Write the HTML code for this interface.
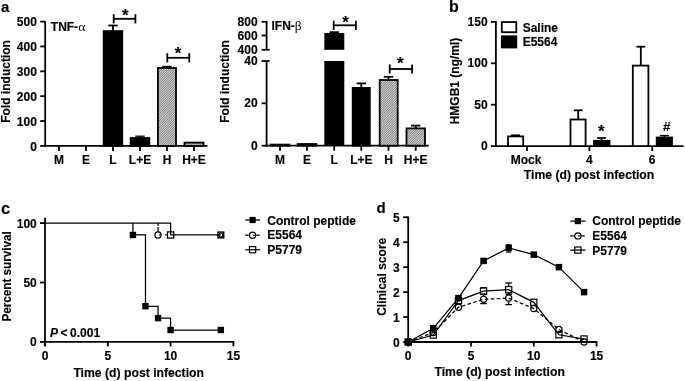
<!DOCTYPE html>
<html><head><meta charset="utf-8"><title>Figure</title>
<style>html,body{margin:0;padding:0;background:#fff}svg{display:block;will-change:transform;position:absolute;left:0;top:0}text{font-family:"Liberation Sans",sans-serif;font-weight:bold;fill:#000;stroke:#000;stroke-width:0.15px}</style>
</head><body>
<svg width="685" height="381" viewBox="0 0 685 381">
<rect width="685" height="381" fill="#fff"/>
<defs><pattern id="hatch" width="7" height="7" patternUnits="userSpaceOnUse"><rect width="7" height="7" fill="#e8e8e8"/><path d="M0.250,-2 L-10.750,9 M2.000,-2 L-9.000,9 M3.750,-2 L-7.250,9 M5.500,-2 L-5.500,9 M7.250,-2 L-3.750,9 M9.000,-2 L-2.000,9 M10.750,-2 L-0.250,9 M12.500,-2 L1.500,9 M14.250,-2 L3.250,9 M16.000,-2 L5.000,9 M17.750,-2 L6.750,9" stroke="#2a2a2a" stroke-width="0.56" fill="none"/></pattern></defs>
<text x="1.00" y="12.20" text-anchor="start" font-size="15" >a</text>
<text x="449.00" y="11.90" text-anchor="start" font-size="16" >b</text>
<text x="1.00" y="213.80" text-anchor="start" font-size="16.5" >c</text>
<text x="376.50" y="213.00" text-anchor="start" font-size="15" >d</text>
<line x1="45.20" y1="21.30" x2="45.20" y2="146.65" stroke="#000" stroke-width="1.8" />
<line x1="44.45" y1="145.90" x2="207.50" y2="145.90" stroke="#000" stroke-width="1.8" />
<line x1="40.20" y1="145.90" x2="45.20" y2="145.90" stroke="#000" stroke-width="1.8" />
<text x="36.90" y="150.60" text-anchor="end" font-size="12" >0</text>
<line x1="40.20" y1="121.04" x2="45.20" y2="121.04" stroke="#000" stroke-width="1.8" />
<text x="36.90" y="125.74" text-anchor="end" font-size="12" >100</text>
<line x1="40.20" y1="96.18" x2="45.20" y2="96.18" stroke="#000" stroke-width="1.8" />
<text x="36.90" y="100.88" text-anchor="end" font-size="12" >200</text>
<line x1="40.20" y1="71.32" x2="45.20" y2="71.32" stroke="#000" stroke-width="1.8" />
<text x="36.90" y="76.02" text-anchor="end" font-size="12" >300</text>
<line x1="40.20" y1="46.46" x2="45.20" y2="46.46" stroke="#000" stroke-width="1.8" />
<text x="36.90" y="51.16" text-anchor="end" font-size="12" >400</text>
<line x1="40.20" y1="21.60" x2="45.20" y2="21.60" stroke="#000" stroke-width="1.8" />
<text x="36.90" y="26.30" text-anchor="end" font-size="12" >500</text>
<line x1="59.00" y1="145.90" x2="59.00" y2="150.90" stroke="#000" stroke-width="1.8" />
<text x="59.00" y="164.00" text-anchor="middle" font-size="12" >M</text>
<line x1="86.00" y1="145.90" x2="86.00" y2="150.90" stroke="#000" stroke-width="1.8" />
<text x="86.00" y="164.00" text-anchor="middle" font-size="12" >E</text>
<line x1="113.00" y1="145.90" x2="113.00" y2="150.90" stroke="#000" stroke-width="1.8" />
<text x="113.00" y="164.00" text-anchor="middle" font-size="12" >L</text>
<line x1="140.00" y1="145.90" x2="140.00" y2="150.90" stroke="#000" stroke-width="1.8" />
<text x="140.00" y="164.00" text-anchor="middle" font-size="12" >L+E</text>
<line x1="167.00" y1="145.90" x2="167.00" y2="150.90" stroke="#000" stroke-width="1.8" />
<text x="167.00" y="164.00" text-anchor="middle" font-size="12" >H</text>
<line x1="194.00" y1="145.90" x2="194.00" y2="150.90" stroke="#000" stroke-width="1.8" />
<text x="194.00" y="164.00" text-anchor="middle" font-size="12" >H+E</text>
<text transform="translate(10.20,81.40) rotate(-90)" text-anchor="middle" font-size="12" >Fold induction</text>
<text x="50.80" y="31.00" text-anchor="start" font-size="12" >TNF-<tspan font-family="Liberation Serif" font-weight="normal" font-size="13.5" stroke="none">α</tspan></text>
<line x1="113.00" y1="25.50" x2="113.00" y2="31.00" stroke="#000" stroke-width="1.8" />
<line x1="108.30" y1="25.50" x2="117.70" y2="25.50" stroke="#000" stroke-width="1.8" />
<rect x="103.70" y="31.10" width="18.60" height="114.80" fill="#000" stroke="#000" stroke-width="1.8"/>
<line x1="140.00" y1="136.20" x2="140.00" y2="138.00" stroke="#000" stroke-width="1.3" />
<line x1="135.30" y1="136.20" x2="144.70" y2="136.20" stroke="#000" stroke-width="1.3" />
<rect x="130.70" y="138.00" width="18.60" height="7.90" fill="#000" stroke="#000" stroke-width="1.8"/>
<line x1="167.00" y1="66.70" x2="167.00" y2="68.00" stroke="#000" stroke-width="1.8" />
<line x1="162.30" y1="66.70" x2="171.70" y2="66.70" stroke="#000" stroke-width="1.8" />
<rect x="157.90" y="68.00" width="18.10" height="77.90" fill="url(#hatch)" stroke="#000" stroke-width="1.8"/>
<rect x="184.50" y="142.60" width="19.00" height="3.30" fill="url(#hatch)" stroke="#000" stroke-width="1.8"/>
<line x1="113.70" y1="18.80" x2="135.40" y2="18.80" stroke="#000" stroke-width="1.8" />
<line x1="113.70" y1="14.20" x2="113.70" y2="23.40" stroke="#000" stroke-width="1.8" />
<line x1="135.40" y1="14.20" x2="135.40" y2="23.40" stroke="#000" stroke-width="1.8" />
<text x="125.30" y="21.30" text-anchor="middle" font-size="17" stroke="none">*</text>
<line x1="167.30" y1="57.80" x2="189.30" y2="57.80" stroke="#000" stroke-width="1.8" />
<line x1="167.30" y1="53.20" x2="167.30" y2="62.40" stroke="#000" stroke-width="1.8" />
<line x1="189.30" y1="53.20" x2="189.30" y2="62.40" stroke="#000" stroke-width="1.8" />
<text x="178.00" y="58.50" text-anchor="middle" font-size="17" stroke="none">*</text>
<line x1="266.60" y1="20.90" x2="266.60" y2="49.80" stroke="#000" stroke-width="1.8" />
<line x1="266.60" y1="61.00" x2="266.60" y2="146.45" stroke="#000" stroke-width="1.8" />
<line x1="265.85" y1="145.70" x2="428.70" y2="145.70" stroke="#000" stroke-width="1.8" />
<line x1="261.60" y1="21.80" x2="266.60" y2="21.80" stroke="#000" stroke-width="1.8" />
<text x="257.60" y="25.90" text-anchor="end" font-size="12" >800</text>
<line x1="261.60" y1="35.50" x2="266.60" y2="35.50" stroke="#000" stroke-width="1.8" />
<text x="257.60" y="39.60" text-anchor="end" font-size="12" >600</text>
<line x1="261.60" y1="49.80" x2="266.60" y2="49.80" stroke="#000" stroke-width="1.8" />
<text x="257.60" y="53.90" text-anchor="end" font-size="12" >400</text>
<line x1="261.60" y1="61.00" x2="266.60" y2="61.00" stroke="#000" stroke-width="1.8" />
<text x="257.60" y="65.10" text-anchor="end" font-size="12" >40</text>
<line x1="261.60" y1="103.30" x2="266.60" y2="103.30" stroke="#000" stroke-width="1.8" />
<text x="257.60" y="107.40" text-anchor="end" font-size="12" >20</text>
<line x1="261.60" y1="145.70" x2="266.60" y2="145.70" stroke="#000" stroke-width="1.8" />
<text x="257.60" y="149.80" text-anchor="end" font-size="12" >0</text>
<line x1="266.60" y1="49.80" x2="269.60" y2="49.80" stroke="#000" stroke-width="1.8" />
<line x1="266.60" y1="61.00" x2="269.60" y2="61.00" stroke="#000" stroke-width="1.8" />
<line x1="280.00" y1="145.70" x2="280.00" y2="150.70" stroke="#000" stroke-width="1.8" />
<text x="280.00" y="164.00" text-anchor="middle" font-size="12" >M</text>
<line x1="307.00" y1="145.70" x2="307.00" y2="150.70" stroke="#000" stroke-width="1.8" />
<text x="307.00" y="164.00" text-anchor="middle" font-size="12" >E</text>
<line x1="334.20" y1="145.70" x2="334.20" y2="150.70" stroke="#000" stroke-width="1.8" />
<text x="334.20" y="164.00" text-anchor="middle" font-size="12" >L</text>
<line x1="361.30" y1="145.70" x2="361.30" y2="150.70" stroke="#000" stroke-width="1.8" />
<text x="361.30" y="164.00" text-anchor="middle" font-size="12" >L+E</text>
<line x1="388.50" y1="145.70" x2="388.50" y2="150.70" stroke="#000" stroke-width="1.8" />
<text x="388.50" y="164.00" text-anchor="middle" font-size="12" >H</text>
<line x1="415.70" y1="145.70" x2="415.70" y2="150.70" stroke="#000" stroke-width="1.8" />
<text x="415.70" y="164.00" text-anchor="middle" font-size="12" >H+E</text>
<text transform="translate(229.00,81.40) rotate(-90)" text-anchor="middle" font-size="12" >Fold induction</text>
<text x="271.50" y="30.10" text-anchor="start" font-size="12" >IFN-<tspan font-family="Liberation Serif" font-weight="normal" font-size="13.5" stroke="none">β</tspan></text>
<rect x="270.70" y="144.60" width="18.60" height="1.10" fill="#000" stroke="#000" stroke-width="1.8"/>
<rect x="297.70" y="144.00" width="18.60" height="1.70" fill="#000" stroke="#000" stroke-width="1.8"/>
<rect x="324.30" y="33.00" width="20.00" height="16.80" fill="#000" stroke="#000" stroke-width="0"/>
<rect x="324.30" y="61.00" width="20.00" height="84.70" fill="#000" stroke="#000" stroke-width="0"/>
<line x1="329.50" y1="32.20" x2="339.00" y2="32.20" stroke="#000" stroke-width="1.8" />
<line x1="361.30" y1="83.40" x2="361.30" y2="88.00" stroke="#000" stroke-width="1.8" />
<line x1="356.60" y1="83.40" x2="366.00" y2="83.40" stroke="#000" stroke-width="1.8" />
<rect x="352.70" y="87.90" width="17.10" height="57.80" fill="#000" stroke="#000" stroke-width="1.8"/>
<line x1="388.50" y1="76.80" x2="388.50" y2="80.00" stroke="#000" stroke-width="1.8" />
<line x1="383.80" y1="76.80" x2="393.20" y2="76.80" stroke="#000" stroke-width="1.8" />
<rect x="379.70" y="80.00" width="18.00" height="65.70" fill="url(#hatch)" stroke="#000" stroke-width="1.8"/>
<line x1="415.70" y1="125.60" x2="415.70" y2="129.00" stroke="#000" stroke-width="1.8" />
<line x1="411.00" y1="125.60" x2="420.40" y2="125.60" stroke="#000" stroke-width="1.8" />
<rect x="406.50" y="128.40" width="18.50" height="17.30" fill="url(#hatch)" stroke="#000" stroke-width="1.8"/>
<line x1="333.70" y1="25.30" x2="355.90" y2="25.30" stroke="#000" stroke-width="1.8" />
<line x1="333.70" y1="20.70" x2="333.70" y2="29.90" stroke="#000" stroke-width="1.8" />
<line x1="355.90" y1="20.70" x2="355.90" y2="29.90" stroke="#000" stroke-width="1.8" />
<text x="345.50" y="28.00" text-anchor="middle" font-size="17" stroke="none">*</text>
<line x1="389.70" y1="69.00" x2="412.10" y2="69.00" stroke="#000" stroke-width="1.8" />
<line x1="389.70" y1="64.40" x2="389.70" y2="73.60" stroke="#000" stroke-width="1.8" />
<line x1="412.10" y1="64.40" x2="412.10" y2="73.60" stroke="#000" stroke-width="1.8" />
<text x="400.30" y="69.30" text-anchor="middle" font-size="17" stroke="none">*</text>
<line x1="495.90" y1="21.00" x2="495.90" y2="146.85" stroke="#000" stroke-width="1.8" />
<line x1="495.15" y1="146.10" x2="683.60" y2="146.10" stroke="#000" stroke-width="1.8" />
<line x1="490.90" y1="146.10" x2="495.90" y2="146.10" stroke="#000" stroke-width="1.8" />
<text x="487.60" y="150.20" text-anchor="end" font-size="12" >0</text>
<line x1="490.90" y1="104.70" x2="495.90" y2="104.70" stroke="#000" stroke-width="1.8" />
<text x="487.60" y="108.80" text-anchor="end" font-size="12" >50</text>
<line x1="490.90" y1="63.30" x2="495.90" y2="63.30" stroke="#000" stroke-width="1.8" />
<text x="487.60" y="67.40" text-anchor="end" font-size="12" >100</text>
<line x1="490.90" y1="21.90" x2="495.90" y2="21.90" stroke="#000" stroke-width="1.8" />
<text x="487.60" y="26.00" text-anchor="end" font-size="12" >150</text>
<line x1="527.00" y1="146.10" x2="527.00" y2="151.10" stroke="#000" stroke-width="1.8" />
<text x="526.00" y="163.60" text-anchor="middle" font-size="12" >Mock</text>
<line x1="589.40" y1="146.10" x2="589.40" y2="151.10" stroke="#000" stroke-width="1.8" />
<text x="589.40" y="163.60" text-anchor="middle" font-size="12" >4</text>
<line x1="652.20" y1="146.10" x2="652.20" y2="151.10" stroke="#000" stroke-width="1.8" />
<text x="652.20" y="163.60" text-anchor="middle" font-size="12" >6</text>
<text x="589.05" y="179.20" text-anchor="middle" font-size="12" textLength="130.4" lengthAdjust="spacingAndGlyphs">Time (d) post infection</text>
<text transform="translate(458.80,81.00) rotate(-90)" text-anchor="middle" font-size="12" >HMGB1 (ng/ml)</text>
<rect x="501.80" y="22.10" width="14.50" height="10.10" fill="#fff" stroke="#000" stroke-width="1.8"/>
<text x="522.70" y="31.90" text-anchor="start" font-size="12" >Saline</text>
<rect x="501.80" y="36.30" width="14.50" height="11.20" fill="#000" stroke="#000" stroke-width="1.8"/>
<text x="522.70" y="46.10" text-anchor="start" font-size="12" >E5564</text>
<line x1="515.60" y1="135.30" x2="515.60" y2="137.00" stroke="#000" stroke-width="1.8" />
<line x1="511.10" y1="135.30" x2="520.10" y2="135.30" stroke="#000" stroke-width="1.8" />
<rect x="508.00" y="136.40" width="15.20" height="9.70" fill="#fff" stroke="#000" stroke-width="1.8"/>
<line x1="578.20" y1="110.30" x2="578.20" y2="120.00" stroke="#000" stroke-width="1.8" />
<line x1="573.80" y1="110.30" x2="582.60" y2="110.30" stroke="#000" stroke-width="1.8" />
<rect x="570.50" y="119.50" width="15.10" height="26.60" fill="#fff" stroke="#000" stroke-width="1.8"/>
<line x1="601.50" y1="138.00" x2="601.50" y2="141.00" stroke="#000" stroke-width="1.8" />
<line x1="597.10" y1="138.00" x2="605.90" y2="138.00" stroke="#000" stroke-width="1.8" />
<rect x="594.00" y="140.80" width="15.50" height="5.30" fill="#000" stroke="#000" stroke-width="1.8"/>
<line x1="640.80" y1="46.70" x2="640.80" y2="66.00" stroke="#000" stroke-width="1.8" />
<line x1="636.40" y1="46.70" x2="645.20" y2="46.70" stroke="#000" stroke-width="1.8" />
<rect x="632.80" y="65.60" width="15.60" height="80.50" fill="#fff" stroke="#000" stroke-width="1.8"/>
<line x1="664.40" y1="135.60" x2="664.40" y2="138.00" stroke="#000" stroke-width="1.4" />
<line x1="660.00" y1="135.60" x2="668.80" y2="135.60" stroke="#000" stroke-width="1.4" />
<rect x="656.70" y="137.50" width="15.30" height="8.60" fill="#000" stroke="#000" stroke-width="1.8"/>
<text x="601.30" y="137.40" text-anchor="middle" font-size="17" stroke="none">*</text>
<text x="666.60" y="131.00" text-anchor="middle" font-size="13.5" font-style="italic" stroke="none">#</text>
<line x1="45.00" y1="217.80" x2="45.00" y2="345.90" stroke="#000" stroke-width="1.8" />
<line x1="41.00" y1="341.90" x2="234.15" y2="341.90" stroke="#000" stroke-width="1.8" />
<line x1="40.00" y1="341.90" x2="45.00" y2="341.90" stroke="#000" stroke-width="1.8" />
<text x="36.80" y="346.30" text-anchor="end" font-size="12" >0</text>
<line x1="40.00" y1="282.50" x2="45.00" y2="282.50" stroke="#000" stroke-width="1.8" />
<text x="36.80" y="286.90" text-anchor="end" font-size="12" >50</text>
<line x1="40.00" y1="223.10" x2="45.00" y2="223.10" stroke="#000" stroke-width="1.8" />
<text x="36.80" y="227.50" text-anchor="end" font-size="12" >100</text>
<line x1="45.00" y1="341.90" x2="45.00" y2="346.40" stroke="#000" stroke-width="1.8" />
<text x="45.00" y="359.50" text-anchor="middle" font-size="12" >0</text>
<line x1="107.80" y1="341.90" x2="107.80" y2="346.40" stroke="#000" stroke-width="1.8" />
<text x="107.80" y="359.50" text-anchor="middle" font-size="12" >5</text>
<line x1="170.60" y1="341.90" x2="170.60" y2="346.40" stroke="#000" stroke-width="1.8" />
<text x="170.60" y="359.50" text-anchor="middle" font-size="12" >10</text>
<line x1="233.40" y1="341.90" x2="233.40" y2="346.40" stroke="#000" stroke-width="1.8" />
<text x="233.40" y="359.50" text-anchor="middle" font-size="12" >15</text>
<text x="138.70" y="377.20" text-anchor="middle" font-size="12" textLength="130.6" lengthAdjust="spacingAndGlyphs">Time (d) post infection</text>
<text transform="translate(10.60,276.40) rotate(-90)" text-anchor="middle" font-size="12" textLength="90.3" lengthAdjust="spacingAndGlyphs">Percent survival</text>
<text x="50.00" y="336.60" text-anchor="start" font-size="12" word-spacing="-0.8"><tspan font-style="italic">P</tspan> &lt; 0.001</text>
<polyline points="132.92,223.10 132.92,234.98 145.48,234.98 145.48,306.26 158.04,306.26 158.04,318.14 170.60,318.14 170.60,330.02 220.84,330.02" fill="none" stroke="#000" stroke-width="1.25" />
<rect x="129.72" y="231.78" width="6.40" height="6.40" fill="#000" stroke="#000" stroke-width="0"/>
<rect x="142.28" y="303.06" width="6.40" height="6.40" fill="#000" stroke="#000" stroke-width="0"/>
<rect x="154.84" y="314.94" width="6.40" height="6.40" fill="#000" stroke="#000" stroke-width="0"/>
<rect x="167.40" y="326.82" width="6.40" height="6.40" fill="#000" stroke="#000" stroke-width="0"/>
<rect x="217.64" y="326.82" width="6.40" height="6.40" fill="#000" stroke="#000" stroke-width="0"/>
<line x1="158.04" y1="223.10" x2="158.04" y2="225.90" stroke="#000" stroke-width="1.25" />
<line x1="158.04" y1="227.10" x2="158.04" y2="231.98" stroke="#000" stroke-width="1.25" />
<line x1="158.84" y1="234.98" x2="160.64" y2="234.98" stroke="#000" stroke-width="1.25" />
<line x1="164.84" y1="234.98" x2="166.64" y2="234.98" stroke="#000" stroke-width="1.25" />
<polyline points="45.00,223.10 170.60,223.10 170.60,234.98 220.84,234.98" fill="none" stroke="#000" stroke-width="1.25" />
<circle cx="158.04" cy="234.98" r="3.1" fill="none" stroke="#000" stroke-width="1.2"/>
<rect x="167.50" y="231.88" width="6.20" height="6.20" fill="none" stroke="#000" stroke-width="1.3"/>
<rect x="217.94" y="232.08" width="5.80" height="5.80" fill="none" stroke="#000" stroke-width="1.4"/>
<circle cx="220.84" cy="234.98" r="2.0" fill="none" stroke="#000" stroke-width="1.2"/>
<line x1="245.20" y1="220.00" x2="260.00" y2="220.00" stroke="#000" stroke-width="1.25" />
<rect x="249.50" y="216.90" width="6.20" height="6.20" fill="#000" stroke="#000" stroke-width="0"/>
<text x="267.30" y="224.50" text-anchor="start" font-size="12" >Control peptide</text>
<line x1="245.20" y1="235.20" x2="260.00" y2="235.20" stroke="#000" stroke-width="1.25" stroke-dasharray="3.5,2"/>
<circle cx="252.60" cy="235.20" r="3.1" fill="#fff" stroke="#000" stroke-width="1.2"/>
<line x1="252.90" y1="235.20" x2="254.80" y2="235.20" stroke="#000" stroke-width="1.1" />
<text x="267.30" y="239.20" text-anchor="start" font-size="12" >E5564</text>
<line x1="245.20" y1="249.70" x2="260.00" y2="249.70" stroke="#000" stroke-width="1.25" />
<rect x="249.50" y="246.60" width="6.20" height="6.20" fill="none" stroke="#000" stroke-width="1.2"/>
<text x="267.30" y="254.10" text-anchor="start" font-size="12" >P5779</text>
<line x1="408.20" y1="216.50" x2="408.20" y2="346.00" stroke="#000" stroke-width="1.8" />
<line x1="404.20" y1="342.00" x2="597.35" y2="342.00" stroke="#000" stroke-width="1.8" />
<line x1="403.20" y1="342.00" x2="408.20" y2="342.00" stroke="#000" stroke-width="1.8" />
<text x="399.60" y="347.00" text-anchor="end" font-size="12" >0</text>
<line x1="403.20" y1="317.05" x2="408.20" y2="317.05" stroke="#000" stroke-width="1.8" />
<text x="399.60" y="322.05" text-anchor="end" font-size="12" >1</text>
<line x1="403.20" y1="292.10" x2="408.20" y2="292.10" stroke="#000" stroke-width="1.8" />
<text x="399.60" y="297.10" text-anchor="end" font-size="12" >2</text>
<line x1="403.20" y1="267.15" x2="408.20" y2="267.15" stroke="#000" stroke-width="1.8" />
<text x="399.60" y="272.15" text-anchor="end" font-size="12" >3</text>
<line x1="403.20" y1="242.20" x2="408.20" y2="242.20" stroke="#000" stroke-width="1.8" />
<text x="399.60" y="247.20" text-anchor="end" font-size="12" >4</text>
<line x1="403.20" y1="217.25" x2="408.20" y2="217.25" stroke="#000" stroke-width="1.8" />
<text x="399.60" y="222.25" text-anchor="end" font-size="12" >5</text>
<line x1="408.20" y1="342.00" x2="408.20" y2="346.50" stroke="#000" stroke-width="1.8" />
<text x="408.20" y="360.20" text-anchor="middle" font-size="12" >0</text>
<line x1="471.00" y1="342.00" x2="471.00" y2="346.50" stroke="#000" stroke-width="1.8" />
<text x="471.00" y="360.20" text-anchor="middle" font-size="12" >5</text>
<line x1="533.80" y1="342.00" x2="533.80" y2="346.50" stroke="#000" stroke-width="1.8" />
<text x="533.80" y="360.20" text-anchor="middle" font-size="12" >10</text>
<line x1="596.60" y1="342.00" x2="596.60" y2="346.50" stroke="#000" stroke-width="1.8" />
<text x="596.60" y="360.20" text-anchor="middle" font-size="12" >15</text>
<text x="499.70" y="376.10" text-anchor="middle" font-size="12" textLength="130.4" lengthAdjust="spacingAndGlyphs">Time (d) post infection</text>
<text transform="translate(386.30,276.80) rotate(-90)" text-anchor="middle" font-size="12" >Clinical score</text>
<line x1="506.08" y1="244.84" x2="511.28" y2="244.84" stroke="#000" stroke-width="1.25" />
<line x1="508.68" y1="244.84" x2="508.68" y2="245.44" stroke="#000" stroke-width="1.25" />
<line x1="506.08" y1="252.04" x2="511.28" y2="252.04" stroke="#000" stroke-width="1.25" />
<line x1="508.68" y1="252.04" x2="508.68" y2="251.44" stroke="#000" stroke-width="1.25" />
<line x1="480.26" y1="287.70" x2="486.86" y2="287.70" stroke="#000" stroke-width="1.25" />
<line x1="480.26" y1="294.20" x2="486.86" y2="294.20" stroke="#000" stroke-width="1.25" />
<line x1="480.26" y1="294.60" x2="486.86" y2="294.60" stroke="#000" stroke-width="1.25" />
<line x1="483.56" y1="294.60" x2="483.56" y2="295.80" stroke="#000" stroke-width="1.25" />
<line x1="480.26" y1="303.60" x2="486.86" y2="303.60" stroke="#000" stroke-width="1.25" />
<line x1="483.56" y1="303.60" x2="483.56" y2="302.00" stroke="#000" stroke-width="1.25" />
<line x1="505.18" y1="283.00" x2="512.18" y2="283.00" stroke="#000" stroke-width="1.25" />
<line x1="508.68" y1="283.00" x2="508.68" y2="286.30" stroke="#000" stroke-width="1.25" />
<line x1="505.68" y1="294.20" x2="511.68" y2="294.20" stroke="#000" stroke-width="1.25" />
<line x1="508.68" y1="294.20" x2="508.68" y2="292.70" stroke="#000" stroke-width="1.25" />
<line x1="505.68" y1="294.40" x2="511.68" y2="294.40" stroke="#000" stroke-width="1.25" />
<line x1="508.68" y1="294.40" x2="508.68" y2="295.20" stroke="#000" stroke-width="1.25" />
<line x1="505.38" y1="304.60" x2="511.98" y2="304.60" stroke="#000" stroke-width="1.25" />
<line x1="508.68" y1="304.60" x2="508.68" y2="301.40" stroke="#000" stroke-width="1.25" />
<polyline points="408.20,342.00 433.32,332.52 458.44,307.32 483.56,299.34 508.68,298.09 533.80,308.57 558.92,329.52 584.04,342.00" fill="none" stroke="#000" stroke-width="1.25" stroke-dasharray="3.6,2.4"/>
<polyline points="408.20,342.00 433.32,335.01 458.44,300.58 483.56,291.10 508.68,289.61 533.80,302.33 558.92,334.76 584.04,339.01" fill="none" stroke="#000" stroke-width="1.25" />
<polyline points="408.20,342.00 433.32,328.28 458.44,298.09 483.56,260.91 508.68,247.94 533.80,254.68 558.92,267.15 584.04,292.10" fill="none" stroke="#000" stroke-width="1.25" />
<circle cx="408.20" cy="342.00" r="3.1" fill="none" stroke="#000" stroke-width="1.2"/>
<circle cx="433.32" cy="332.52" r="3.1" fill="none" stroke="#000" stroke-width="1.2"/>
<circle cx="458.44" cy="307.32" r="3.1" fill="none" stroke="#000" stroke-width="1.2"/>
<circle cx="483.56" cy="299.34" r="3.1" fill="none" stroke="#000" stroke-width="1.2"/>
<circle cx="508.68" cy="298.09" r="3.1" fill="none" stroke="#000" stroke-width="1.2"/>
<circle cx="533.80" cy="308.57" r="3.1" fill="none" stroke="#000" stroke-width="1.2"/>
<circle cx="558.92" cy="329.52" r="3.1" fill="none" stroke="#000" stroke-width="1.2"/>
<circle cx="584.04" cy="342.00" r="3.1" fill="none" stroke="#000" stroke-width="1.2"/>
<rect x="405.10" y="338.90" width="6.20" height="6.20" fill="none" stroke="#000" stroke-width="1.2"/>
<rect x="430.22" y="331.91" width="6.20" height="6.20" fill="none" stroke="#000" stroke-width="1.2"/>
<rect x="455.34" y="297.48" width="6.20" height="6.20" fill="none" stroke="#000" stroke-width="1.2"/>
<rect x="480.46" y="288.00" width="6.20" height="6.20" fill="none" stroke="#000" stroke-width="1.2"/>
<rect x="505.58" y="286.50" width="6.20" height="6.20" fill="none" stroke="#000" stroke-width="1.2"/>
<rect x="530.70" y="299.23" width="6.20" height="6.20" fill="none" stroke="#000" stroke-width="1.2"/>
<rect x="555.82" y="331.66" width="6.20" height="6.20" fill="none" stroke="#000" stroke-width="1.2"/>
<rect x="580.94" y="335.91" width="6.20" height="6.20" fill="none" stroke="#000" stroke-width="1.2"/>
<rect x="404.95" y="338.75" width="6.50" height="6.50" fill="#000" stroke="#000" stroke-width="0"/>
<rect x="430.07" y="325.03" width="6.50" height="6.50" fill="#000" stroke="#000" stroke-width="0"/>
<rect x="455.19" y="294.84" width="6.50" height="6.50" fill="#000" stroke="#000" stroke-width="0"/>
<rect x="480.31" y="257.66" width="6.50" height="6.50" fill="#000" stroke="#000" stroke-width="0"/>
<rect x="505.43" y="244.69" width="6.50" height="6.50" fill="#000" stroke="#000" stroke-width="0"/>
<rect x="530.55" y="251.43" width="6.50" height="6.50" fill="#000" stroke="#000" stroke-width="0"/>
<rect x="555.67" y="263.90" width="6.50" height="6.50" fill="#000" stroke="#000" stroke-width="0"/>
<rect x="580.79" y="288.85" width="6.50" height="6.50" fill="#000" stroke="#000" stroke-width="0"/>
<line x1="570.20" y1="221.10" x2="585.50" y2="221.10" stroke="#000" stroke-width="1.25" />
<rect x="574.75" y="218.00" width="6.20" height="6.20" fill="#000" stroke="#000" stroke-width="0"/>
<text x="592.30" y="225.40" text-anchor="start" font-size="12" >Control peptide</text>
<line x1="570.20" y1="235.90" x2="585.50" y2="235.90" stroke="#000" stroke-width="1.25" stroke-dasharray="3.5,2"/>
<circle cx="577.85" cy="235.90" r="3.1" fill="#fff" stroke="#000" stroke-width="1.2"/>
<line x1="578.15" y1="235.90" x2="580.05" y2="235.90" stroke="#000" stroke-width="1.1" />
<text x="592.30" y="240.20" text-anchor="start" font-size="12" >E5564</text>
<line x1="570.20" y1="250.10" x2="585.50" y2="250.10" stroke="#000" stroke-width="1.25" />
<rect x="574.75" y="247.00" width="6.20" height="6.20" fill="none" stroke="#000" stroke-width="1.2"/>
<text x="592.30" y="254.70" text-anchor="start" font-size="12" >P5779</text>
</svg>
</body></html>
